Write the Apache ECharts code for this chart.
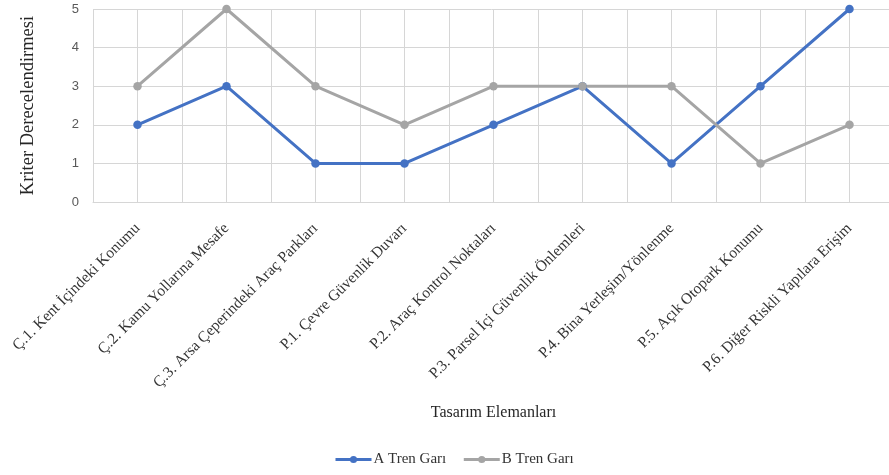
<!DOCTYPE html>
<html>
<head>
<meta charset="utf-8">
<script src="https://cdn.jsdelivr.net/npm/echarts@6/dist/echarts.min.js"></script>
<style>
html,body{margin:0;padding:0;background:#fff;}
#chart{width:889px;height:475px;}
</style>
</head>
<body>
<div id="chart"></div>
<script>
// Design elements on the x axis
const categories = [
  'Ç.1. Kent İçindeki Konumu',
  'Ç.2. Kamu Yollarına Mesafe',
  'Ç.3. Arsa Çeperindeki Araç Parkları',
  'P.1. Çevre Güvenlik Duvarı',
  'P.2. Araç Kontrol Noktaları',
  'P.3. Parsel İçi Güvenlik Önlemleri',
  'P.4. Bina Yerleşim/Yönlenme',
  'P.5. Açık Otopark Konumu',
  'P.6. Diğer Riskli Yapılara Erişim'
];
// Criterion ratings per station
const seriesA = [2, 3, 1, 1, 2, 3, 1, 3, 5];
const seriesB = [3, 5, 3, 2, 3, 3, 3, 1, 2];
const seriesNames = ['A Tren Garı', 'B Tren Garı'];
const yTicks = [0, 1, 2, 3, 4, 5];

const serif = "'Liberation Serif', 'DejaVu Serif', serif";
const gridColor = '#d6d6d6';

const chart = echarts.init(document.getElementById('chart'), null, {renderer: 'canvas'});
chart.setOption({
  animation: false,
  backgroundColor: '#fff',
  color: ['#4472C4', '#A5A5A5'],
  grid: {left: 93, right: -5, top: 9, bottom: 273, containLabel: false, outerBoundsMode: 'none'},
  xAxis: [{
    type: 'category',
    data: categories,
    boundaryGap: true,
    axisLine: {show: true, lineStyle: {color: gridColor, width: 1}},
    axisTick: {show: false},
    splitLine: {show: false},
    axisLabel: {
      interval: 0, rotate: 45, margin: 24,
      fontFamily: serif, fontSize: 15.5, color: '#333333'
    },
    name: 'Tasarım Elemanları',
    nameLocation: 'middle',
    nameGap: 203,
    nameTextStyle: {fontFamily: serif, fontSize: 16, color: '#262626'}
  }, {
    // fine grid: lines at every category centre and boundary
    type: 'value',
    min: 0, max: 18, interval: 1,
    show: true,
    axisLine: {show: false}, axisTick: {show: false}, axisLabel: {show: false},
    splitLine: {show: true, lineStyle: {color: gridColor, width: 1}}
  }],
  yAxis: {
    type: 'value',
    min: yTicks[0], max: yTicks[yTicks.length - 1], interval: 1,
    axisLine: {show: false}, axisTick: {show: false},
    splitLine: {show: true, lineStyle: {color: gridColor, width: 1}},
    axisLabel: {color: '#595959', fontSize: 13, fontFamily: "'Liberation Sans', sans-serif", margin: 14},
    name: 'Kriter Derecelendirmesi',
    nameLocation: 'middle',
    nameGap: 55,
    nameRotate: 90,
    nameTextStyle: {fontFamily: serif, fontSize: 18.5, color: '#262626'}
  },
  legend: {
    bottom: 3, left: 329,
    itemWidth: 36, itemHeight: 9, itemGap: 16,
    lineStyle: {width: 3},
    textStyle: {fontFamily: serif, fontSize: 15, color: '#333333', padding: [0, 0, 0, -3]},
    data: seriesNames
  },
  series: [{
    name: seriesNames[0], type: 'line', data: seriesA,
    xAxisIndex: 0,
    symbol: 'circle', symbolSize: 8.5,
    lineStyle: {width: 3}
  }, {
    name: seriesNames[1], type: 'line', data: seriesB,
    xAxisIndex: 0,
    symbol: 'circle', symbolSize: 8.5,
    lineStyle: {width: 3}
  }]
});
</script>
</body>
</html>
